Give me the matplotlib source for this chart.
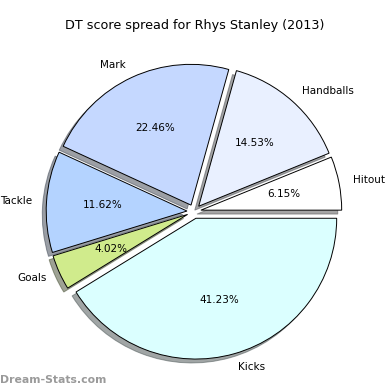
import matplotlib
matplotlib.use("Agg")
import matplotlib.pyplot as plt

labels = ["Hitout", "Handballs", "Mark", "Tackle", "Goals", "Kicks"]
shares = [6.15, 14.53, 22.46, 11.62, 4.02, 41.23]
colors = ["#ffffff", "#e9f0ff", "#c5d8ff", "#b4d3ff", "#d0eb8c", "#dbffff"]

fig = plt.figure(figsize=(3.9, 3.9), dpi=100)
ax = fig.add_axes([11 / 390, -4.5 / 390, 366 / 390, 366 / 390])

ax.pie(
    shares,
    labels=labels,
    colors=colors,
    explode=[0.05] * len(shares),
    autopct="%1.2f%%",
    shadow=True,
    startangle=0,
    counterclock=True,
    wedgeprops={"edgecolor": "black", "linewidth": 0.7},
    textprops={"fontsize": 7.5},
)
ax.set_xlim(-1.3, 1.3)
ax.set_ylim(-1.3, 1.3)
ax.set_aspect("equal")
ax.axis("off")

fig.text(0.5, 0.935, "DT score spread for Rhys Stanley (2013)", ha="center", va="center", fontsize=9.2)
fig.text(0.0, 0.025, "Dream-Stats.com", ha="left", va="center", fontsize=7.8,
         color="#9a9a9a", fontweight="bold")

fig.savefig("out.png", dpi=100)
